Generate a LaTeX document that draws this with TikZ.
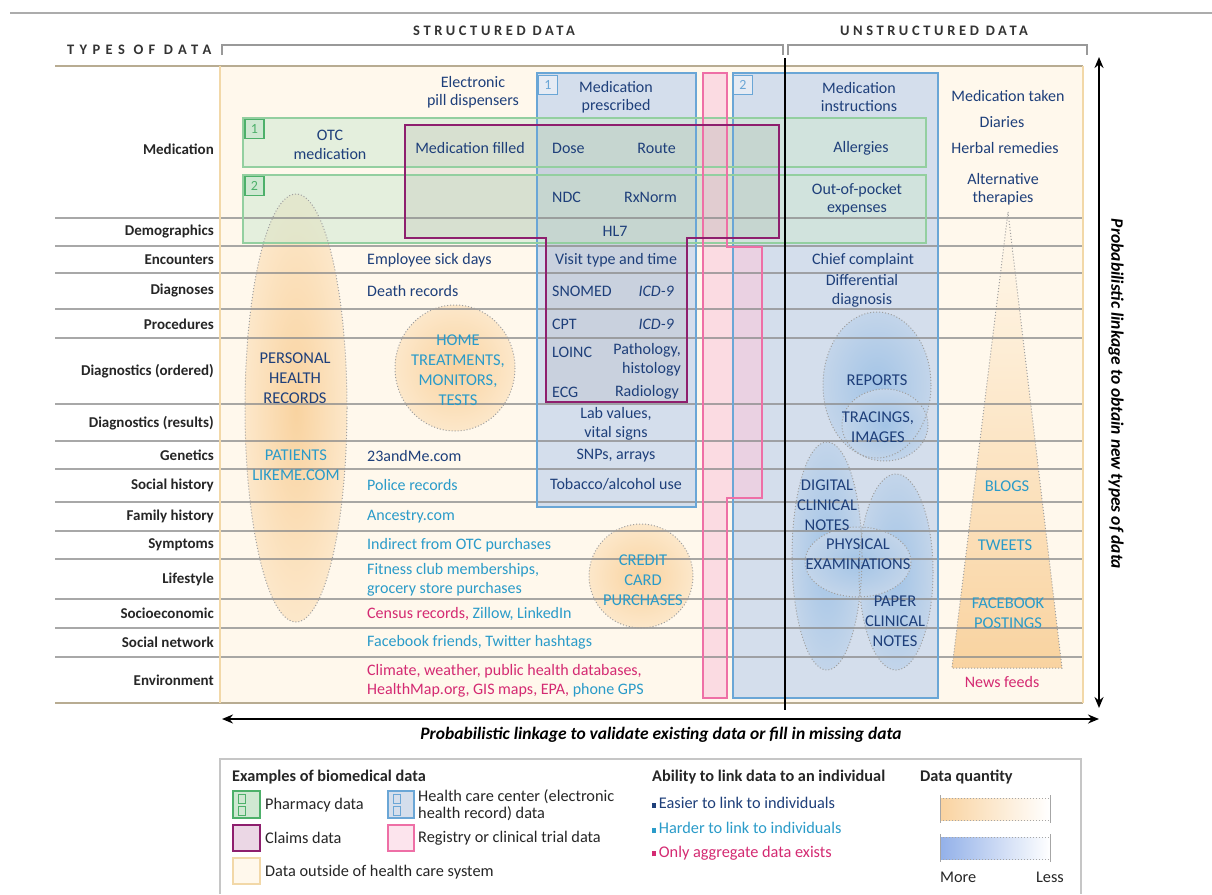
\documentclass[tikz,border=0pt]{standalone}
\usepackage{fontspec}
\setmainfont{Carlito}
\usetikzlibrary{arrows.meta}
\definecolor{navy}{HTML}{1E3F7A}
\definecolor{lblue}{HTML}{2A9BC9}
\definecolor{mag}{HTML}{D42A72}
\definecolor{bgor}{HTML}{FFF8EC}
\definecolor{orb}{HTML}{F2D8A8}
\definecolor{orin}{HTML}{F9D3A0}
\definecolor{bluef}{HTML}{D4DEEC}
\definecolor{blueb}{HTML}{6AA6D6}
\definecolor{blin}{HTML}{A3C4E6}
\definecolor{greenf}{HTML}{CFE8D2}
\definecolor{greenb}{HTML}{93CFA0}
\definecolor{greent}{HTML}{4DB06A}
\definecolor{pinkf}{HTML}{F9C9DC}
\definecolor{pinkb}{HTML}{EE6FA6}
\definecolor{purb}{HTML}{8E1F6E}
\definecolor{rowl}{HTML}{8C8C8C}
\definecolor{tan}{HTML}{B8AC92}
\newcommand{\entfont}{\fontsize{16}{18.5}\selectfont}
\begin{document}
\begin{tikzpicture}[x=1pt,y=-1pt,
  hdr/.style={font=\fontsize{14.5}{16}\selectfont\bfseries\addfontfeatures{LetterSpace=25}, text=black!80, inner sep=0pt},
  hdrw/.style={font=\fontsize{14.5}{16}\selectfont\bfseries\addfontfeatures{LetterSpace=37}, text=black!80, inner sep=0pt},
  rowlab/.style={anchor=east, font=\fontsize{15}{17}\selectfont\bfseries, text=black!85, inner sep=0pt},
  ent/.style={font=\entfont, text=navy, inner sep=0pt, align=center},
  entw/.style={ent, anchor=west, align=left},
  ente/.style={ent, anchor=east, align=right},
  caps/.style={font=\fontsize{16.5}{20}\selectfont, inner sep=0pt, align=center},
  rowline/.style={rowl, line width=1.1, opacity=.75},
  dotb/.style={draw=gray!75, dotted, line width=1},
  bluebox/.style={draw=blueb, line width=1.6},
  greenbox/.style={draw=greenb, line width=1.4},
  numg/.style={draw=greent, line width=1.2, fill=greenf, text=greent, minimum size=19pt, inner sep=0pt, font=\fontsize{14}{15}\selectfont},
  numb/.style={draw=blueb, line width=1.2, fill=bluef!60, text=blueb, minimum size=19pt, inner sep=0pt, font=\fontsize{14}{15}\selectfont},
  legt/.style={anchor=west, font=\fontsize{16.3}{17.5}\selectfont, text=black!85, inner sep=0pt, align=left},
  legh/.style={anchor=west, font=\fontsize{16.3}{18}\selectfont\bfseries, text=black!85, inner sep=0pt},
  arr/.style={line width=1.8, {Stealth[length=11pt,width=9pt]}-{Stealth[length=11pt,width=9pt]}},
  orsh/.style={inner color=orin, outer color=orin!45!bgor},
  blsh/.style={inner color=blin, outer color=blin!35!bluef}
]
\useasboundingbox (0,0) rectangle (1212,894);
\fill[white] (0,0) rectangle (1212,894);

% top rule and headers
\draw[gray!65, line width=2] (10,13) -- (1212,13);
\node[hdr] (hs) at (494,31) {STRUCTURED DATA};
\node[hdr] (hu) at (934,31) {UNSTRUCTURED DATA};
\node[hdrw, anchor=west] (ht) at (67,50) {TYPES OF DATA};
\draw[gray!80, line width=1.4] (222,55) |- (783,45) -- (783,55);
\draw[gray!80, line width=1.4] (788,55) |- (1087,45) -- (1087,55);

% background of data outside health care
\fill[bgor] (220,66) rectangle (1083,703);

% orange shapes
\shade[orsh] (296,408) ellipse [x radius=51, y radius=214];
\shade[orsh] (455,368) ellipse [x radius=60, y radius=63];
\shade[orsh] (641,576) circle [radius=52];
\shade[top color=bgor, bottom color=orin] (1008,212) -- (1062,668) -- (952,668) -- cycle;

% blue boxes
\fill[bluef] (537,73) rectangle (696,507);
\fill[bluef] (733,73) rectangle (938,698);

% blue ellipses
\shade[blsh] (877,385) ellipse [x radius=54, y radius=73];
\shade[blsh] (885,425) ellipse [x radius=43, y radius=36];
\shade[blsh] (827,556) ellipse [x radius=35, y radius=114];
\shade[blsh] (896,572) ellipse [x radius=37, y radius=98];
\shade[blsh] (858,562) ellipse [x radius=53, y radius=35];

% green, pink, purple fills
\fill[greenf, opacity=.55] (243,118) rectangle (926,167);
\fill[greenf, opacity=.55] (243,175) rectangle (926,243);
\fill[pinkf, opacity=.6] (703,73) rectangle (727,698);
\fill[pinkf, opacity=.6] (727,247) rectangle (762,498);
\fill[gray, opacity=.13] (405,125) -- (779,125) -- (779,238) -- (687,238) -- (687,402) -- (546,402) -- (546,238) -- (405,238) -- cycle;

% row lines
\foreach \yy in {218,246,273,309,338,404,441,469,502,531,559,599,628,657}
  \draw[rowline] (55,\yy) -- (1083,\yy);
\draw[tan, line width=2] (55,65.5) -- (1083,65.5);
\draw[tan, line width=1.6] (55,703) -- (1083,703);
\draw[orb, line width=1.5] (220,66) -- (220,703);
\draw[orb, line width=1.5] (1083,66) -- (1083,703);

% borders
\draw[bluebox] (537,73) rectangle (696,507);
\draw[bluebox] (733,73) rectangle (938,698);
\draw[greenbox] (243,118) rectangle (926,167);
\draw[greenbox] (243,175) rectangle (926,243);
\draw[pinkb, line width=1.4] (703,73) -- (727,73) -- (727,247) -- (762,247) -- (762,498) -- (727,498) -- (727,698) -- (703,698) -- cycle;
\draw[purb, line width=2.2] (405,125) -- (779,125) -- (779,238) -- (687,238) -- (687,402) -- (546,402) -- (546,238) -- (405,238) -- cycle;

% dotted outlines
\draw[dotb] (296,408) ellipse [x radius=51, y radius=214];
\draw[dotb] (455,368) ellipse [x radius=60, y radius=63];
\draw[dotb] (641,576) circle [radius=52];
\draw[dotb] (1008,212) -- (1062,668) -- (952,668) -- cycle;
\draw[dotb] (877,385) ellipse [x radius=54, y radius=73];
\draw[dotb] (885,425) ellipse [x radius=43, y radius=36];
\draw[dotb] (827,556) ellipse [x radius=35, y radius=114];
\draw[dotb] (896,572) ellipse [x radius=37, y radius=98];
\draw[dotb] (858,562) ellipse [x radius=53, y radius=35];

% structured / unstructured divider and arrows
\draw[line width=1.8] (785,58) -- (785,710);
\coordinate (vt1) at (1099,57);
\coordinate (vt2) at (1099,708);
\draw[arr] (vt1) -- (vt2);
\coordinate (hz1) at (222,719);
\coordinate (hz2) at (1099,719);
\draw[arr] (hz1) -- (hz2);
\node[rotate=-90, font=\fontsize{17.5}{19}\selectfont\bfseries\itshape, inner sep=0pt] (vlab) at (1116,394) {Probabilistic linkage to obtain new types of data};
\node[font=\fontsize{17.5}{19}\selectfont\bfseries\itshape, inner sep=0pt] (hlab) at (661,735) {Probabilistic linkage to validate existing data or fill in missing data};

% number labels
\node[numg] (g1) at (254.5,129) {1};
\node[numg] (g2) at (254.5,186) {2};
\node[numb] (b1) at (548,85) {1};
\node[numb] (b2) at (743,85) {2};

% row labels
\node[rowlab] (r1) at (214,149) {Medication};
\node[rowlab] (r2) at (214,232) {Demographics};
\node[rowlab] (r3) at (214,259.5) {Encounters};
\node[rowlab] (r4) at (214,291) {Diagnoses};
\node[rowlab] (r5) at (214,324) {Procedures};
\node[rowlab] (r6) at (214,371) {Diagnostics (ordered)};
\node[rowlab] (r7) at (214,423) {Diagnostics (results)};
\node[rowlab] (r8) at (214,455) {Genetics};
\node[rowlab] (r9) at (214,485.5) {Social history};
\node[rowlab] (r10) at (214,516.5) {Family history};
\node[rowlab] (r11) at (214,545) {Symptoms};
\node[rowlab] (r12) at (214,579) {Lifestyle};
\node[rowlab] (r13) at (214,613.5) {Socioeconomic};
\node[rowlab] (r14) at (214,642.5) {Social network};
\node[rowlab] (r15) at (214,680) {Environment};

% medication row entries
\node[ent] (e1) at (473,92) {Electronic\\pill dispensers};
\node[ent] (e2) at (616,97) {Medication\\prescribed};
\node[ent] (e3) at (330,145) {OTC\\medication};
\node[ent] (e4) at (470,148) {Medication filled};
\node[entw] (e5) at (552,148) {Dose};
\node[ente] (e6) at (676,148) {Route};
\node[entw] (e7) at (552,197) {NDC};
\node[ente] (e8) at (677,197) {RxNorm};
\node[ent] (e9) at (615,231) {HL7};
\node[ent] (e10) at (859,97) {Medication\\instructions};
\node[ent] (e11) at (861,148) {Allergies};
\node[ent] (e12) at (857,199) {Out-of-pocket\\expenses};
\node[ent] (e13) at (1008,96) {Medication taken};
\node[ent] (e14) at (1002,122) {Diaries};
\node[ent] (e15) at (1005,148) {Herbal remedies};
\node[ent] (e16) at (1003,189) {Alternative\\therapies};

% blue box 1 entries
\node[ent] (f1) at (616,260) {Visit type and time};
\node[entw] (f2) at (552,291) {SNOMED};
\node[ente] (f3) at (674,291) {\itshape ICD-9};
\node[entw] (f4) at (552,324) {CPT};
\node[ente] (f5) at (674,324) {\itshape ICD-9};
\node[entw] (f6) at (552,352) {LOINC};
\node[ente] (f7) at (681,360) {Pathology,\\histology};
\node[entw] (f8) at (552,392) {ECG};
\node[ente] (f9) at (679,392) {Radiology};
\node[ent] (f10) at (616,424) {Lab values,\\vital signs};
\node[ent] (f11) at (616,456) {SNPs, arrays};
\node[ent] (f12) at (616,484) {Tobacco/alcohol use};

% left column entries
\node[entw] (c1) at (367,260) {Employee sick days};
\node[entw] (c2) at (367,291) {Death records};
\node[entw] (c3) at (367,456) {23andMe.com};
\node[entw, text=lblue] (c4) at (367,485) {Police records};
\node[entw, text=lblue] (c5) at (367,517) {Ancestry.com};
\node[entw, text=lblue] (c6) at (367,545) {Indirect from OTC purchases};
\node[entw, text=lblue] (c7) at (367,580) {Fitness club memberships,\\grocery store purchases};
\node[entw] (c8) at (367,613.5) {\textcolor{mag}{Census records,} \textcolor{lblue}{Zillow, LinkedIn}};
\node[entw, text=lblue] (c9) at (367,642.5) {Facebook friends, Twitter hashtags};
\node[entw, text=mag] (c10) at (367,681) {Climate, weather, public health databases,\\HealthMap.org, GIS maps, EPA, \textcolor{lblue}{phone GPS}};

% ellipse labels
\node[caps, text=navy] (p1) at (295,378) {PERSONAL\\HEALTH\\RECORDS};
\node[caps, text=lblue] (p2) at (296,465) {PATIENTS\\LIKEME.COM};
\node[caps, text=lblue] (p3) at (458,370) {HOME\\TREATMENTS,\\MONITORS,\\TESTS};
\node[caps, text=lblue] (p4) at (643,580) {CREDIT\\CARD\\PURCHASES};

% unstructured entries
\node[ent] (u1) at (863,260) {Chief complaint};
\node[ent] (u2) at (862,291) {Differential\\diagnosis};
\node[caps, text=navy] (u3) at (877,380) {REPORTS};
\node[caps, text=navy] (u4) at (878,427) {TRACINGS,\\IMAGES};
\node[caps, text=navy] (u5) at (827,505) {DIGITAL\\CLINICAL\\NOTES};
\node[caps, text=navy] (u6) at (858,554) {PHYSICAL\\EXAMINATIONS};
\node[caps, text=navy] (u7) at (895,621) {PAPER\\CLINICAL\\NOTES};
\node[caps, text=lblue] (u8) at (1007,486) {BLOGS};
\node[caps, text=lblue] (u9) at (1005,545) {TWEETS};
\node[caps, text=lblue] (u10) at (1008,613) {FACEBOOK\\POSTINGS};
\node[ent, text=mag] (u11) at (1002,682) {News feeds};

% legend
\draw[gray!45, line width=1.3] (220,894) |- (1081,759) -- (1081,894);
\node[legh] (l1) at (232,777) {Examples of biomedical data};
\draw[greent, line width=1.2, fill=greenf] (233,791) rectangle (260,818);
\draw[greent, line width=0.8] (238,794) rectangle (245,803) (238,806) rectangle (245,815);
\node[legt] (l2) at (265,805) {Pharmacy data};
\draw[blueb, line width=1.2, fill=bluef] (388,791) rectangle (414,818);
\draw[blueb, line width=0.8] (393,794) rectangle (400,803) (393,806) rectangle (400,815);
\node[legt] (l3) at (418,805) {Health care center (electronic\\health record) data};
\draw[purb, line width=2.2, fill=purb!18] (233,825) rectangle (260,851);
\node[legt] (l4) at (265,838) {Claims data};
\draw[pinkb, line width=1.2, fill=pinkf!50] (388,825) rectangle (414,851);
\node[legt] (l5) at (418,838) {Registry or clinical trial data};
\draw[orb, line width=1.2, fill=bgor] (233,858) rectangle (260,884);
\node[legt] (l6) at (265,872) {Data outside of health care system};
\node[legh] (l7) at (652,777) {Ability to link data to an individual};
\node[legt, text=navy] (l8) at (652,803) {\rule[1pt]{4pt}{5pt}\,Easier to link to individuals};
\node[legt, text=lblue] (l9) at (652,828) {\rule[1pt]{4pt}{5pt}\,Harder to link to individuals};
\node[legt, text=mag] (l10) at (652,853) {\rule[1pt]{4pt}{5pt}\,Only aggregate data exists};
\node[legh] (l11) at (920,777) {Data quantity};
\shade[left color=orin, right color=white] (940,798) rectangle (1050,820);
\draw[gray!70, dotted, line width=1] (940,798) -- (1050,798) (940,820) -- (1050,820);
\draw[gray!70, line width=1] (940,795) -- (940,823) (1050,795) -- (1050,823);
\shade[left color=blin!90!blue, right color=white] (940,837) rectangle (1050,859);
\draw[gray!70, dotted, line width=1] (940,837) -- (1050,837) (940,859) -- (1050,859);
\draw[gray!70, line width=1] (940,834) -- (940,862) (1050,834) -- (1050,862);
\node[legt] (l12) at (940,877) {More};
\node[legt, anchor=east] (l13) at (1064,877) {Less};
\end{tikzpicture}
\end{document}
